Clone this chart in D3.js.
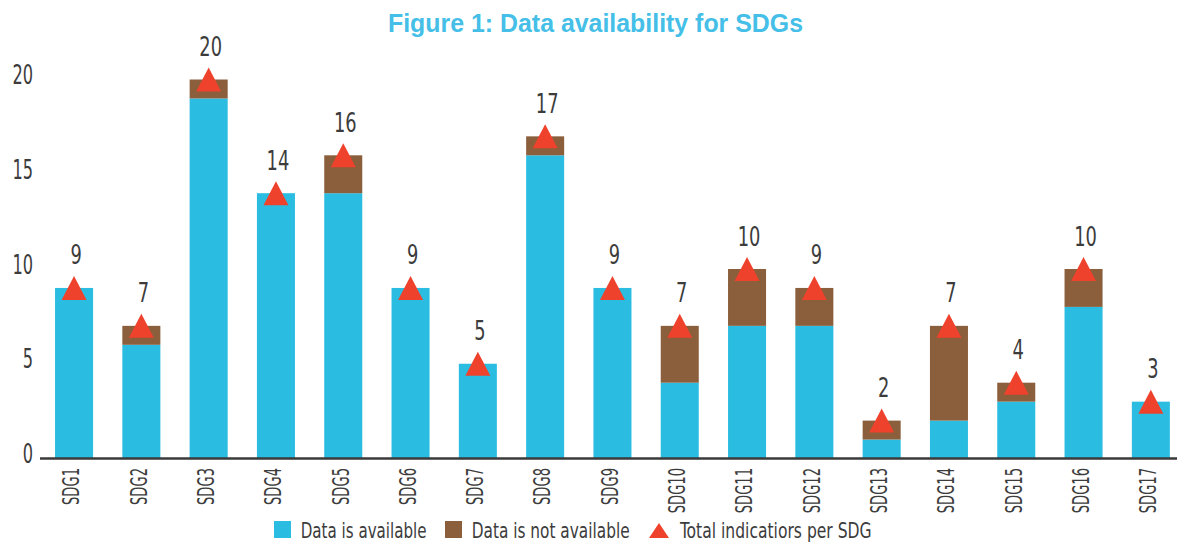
<!DOCTYPE html>
<html>
<head>
<meta charset="utf-8">
<script src="https://cdn.jsdelivr.net/npm/d3@7"></script>
<style>
  html, body { margin: 0; padding: 0; background: #ffffff; }
  svg { display: block; }
  text { font-family: "Liberation Sans Narrow", "Arial Narrow", "DejaVu Sans Condensed", "Liberation Sans", sans-serif; fill: #3c3c3c; }
</style>
</head>
<body>
<svg id="chart" width="1177" height="542"></svg>
<script>
// ---- data ----
const categories = ["SDG1","SDG2","SDG3","SDG4","SDG5","SDG6","SDG7","SDG8","SDG9","SDG10","SDG11","SDG12","SDG13","SDG14","SDG15","SDG16","SDG17"];
const dataAvailable    = [9, 6, 19, 14, 14, 9, 5, 16, 9, 4, 7, 7, 1, 2, 3, 8, 3];
const dataNotAvailable = [0, 1, 1, 0, 2, 0, 0, 1, 0, 3, 3, 2, 1, 5, 1, 2, 0];
const totalIndicators  = [9, 7, 20, 14, 16, 9, 5, 17, 9, 7, 10, 9, 2, 7, 4, 10, 3];
const yTicks = [0, 5, 10, 15, 20];
const seriesNames = ["Data is available", "Data is not available", "Total indicatiors per SDG"];
const titleText = "Figure 1: Data availability for SDGs";

const colors = { avail: "#2bbde1", notAvail: "#8b5e3c", total: "#ee422d", title: "#45bfe7", axis: "#3a3a3a" };

const svg = d3.select("#chart");

// compress a text element horizontally to a target width (keeps glyph height)
function fit(sel, target) {
  const node = sel.node();
  const w = node.getComputedTextLength();
  return w > 0 ? target / w : 1;
}

const x = d3.scaleBand().domain(categories).range([40.4, 1184.5]).paddingInner(0.435).paddingOuter(0.2175);
const y = d3.scaleLinear().domain([0, 20]).range([458.5, 79.5]);

const rows = categories.map((c, i) => ({ cat: c, avail: dataAvailable[i], notAvail: dataNotAvailable[i], total: totalIndicators[i] }));
const stack = d3.stack().keys(["avail", "notAvail"])(rows);

// bars
svg.append("g").selectAll("g").data(stack).join("g")
  .attr("fill", d => d.key === "avail" ? colors.avail : colors.notAvail)
  .selectAll("rect").data(d => d).join("rect")
  .attr("x", d => x(d.data.cat))
  .attr("width", x.bandwidth())
  .attr("y", d => y(d[1]))
  .attr("height", d => y(d[0]) - y(d[1]));

// axis line
svg.append("line").attr("x1", 40).attr("x2", 1177).attr("y1", y(0)).attr("y2", y(0))
  .attr("stroke", colors.axis).attr("stroke-width", 2.6);

// y axis labels
const yAxis = svg.append("g").attr("transform", "translate(33,0)")
  .call(d3.axisLeft(y).tickValues(yTicks).tickSize(0).tickPadding(0));
yAxis.select(".domain").remove();
yAxis.selectAll("text").attr("font-size", 26).attr("dy", 4).attr("x", 0)
  .attr("font-family", null).style("fill", "#3c3c3c");
{
  const t15 = yAxis.selectAll("text").filter(d => d === 15);
  const k = fit(t15, 20.6);
  yAxis.selectAll("text").attr("transform", `scale(${k},1)`);
}
yAxis.attr("font-family", null);

// x axis labels
const xAxis = svg.append("g").attr("transform", `translate(0,${y(0)})`)
  .call(d3.axisBottom(x).tickSize(0).tickPadding(0));
xAxis.select(".domain").remove();
xAxis.attr("font-family", null);
xAxis.selectAll("text").attr("font-size", 22.8).attr("text-anchor", "end")
  .attr("x", 0).attr("y", 0).attr("dy", 0).style("fill", "#3c3c3c");
{
  const t1 = xAxis.selectAll("text").filter(d => d === "SDG1");
  t1.attr("transform", null);
  const k = fit(t1, 37);
  xAxis.selectAll("text").attr("transform", `rotate(-90) translate(-9.5,5.3) scale(${k},1)`);
}

// triangles (total)
const tri = (cx, cy, hw, hh) => `M${cx},${cy - hh}L${cx + hw},${cy + hh}L${cx - hw},${cy + hh}Z`;
svg.append("g").selectAll("path").data(rows).join("path")
  .attr("d", d => tri(x(d.cat) + x.bandwidth() / 2, y(d.total), 12.5, 12))
  .attr("fill", colors.total);

// value labels
const vl = svg.append("g").selectAll("g").data(rows).join("g")
  .attr("transform", d => `translate(${x(d.cat) + x.bandwidth() / 2 + 2},${y(d.total) - 23.5})`);
vl.append("text").attr("text-anchor", "middle").attr("font-size", 26).text(d => d.total);
{
  const t20 = vl.selectAll("text").filter(d => d.total === 20);
  const k = fit(t20, 22.7);
  vl.selectAll("text").attr("transform", `scale(${k},1)`);
}

// title
const title = svg.append("text").attr("x", 595.5).attr("y", 31.5).attr("text-anchor", "middle")
  .attr("font-size", 26).attr("font-weight", "bold")
  .style("font-family", "'Liberation Sans', 'DejaVu Sans', sans-serif")
  .style("fill", colors.title).text(titleText);
title.attr("textLength", 415).attr("lengthAdjust", "spacingAndGlyphs");

// legend
const legend = svg.append("g");
const legendItems = [
  { name: seriesNames[0], type: "rect", color: colors.avail, sx: 274, tx: 300.7, tw: 126 },
  { name: seriesNames[1], type: "rect", color: colors.notAvail, sx: 445, tx: 471.7, tw: 158 },
  { name: seriesNames[2], type: "tri", color: colors.total, sx: 649, tx: 680, tw: 191.7 }
];
legendItems.forEach(it => {
  if (it.type === "rect") {
    legend.append("rect").attr("x", it.sx).attr("y", 521).attr("width", 17).attr("height", 17).attr("fill", it.color);
  } else {
    legend.append("path").attr("d", tri(it.sx + 10, 530.5, 10, 7.5)).attr("fill", it.color);
  }
  const g = legend.append("g").attr("transform", `translate(${it.tx},538)`);
  const t = g.append("text").attr("font-size", 20.6).text(it.name);
  const k = fit(t, it.tw);
  t.attr("transform", `scale(${k},1)`);
});
</script>
</body>
</html>
